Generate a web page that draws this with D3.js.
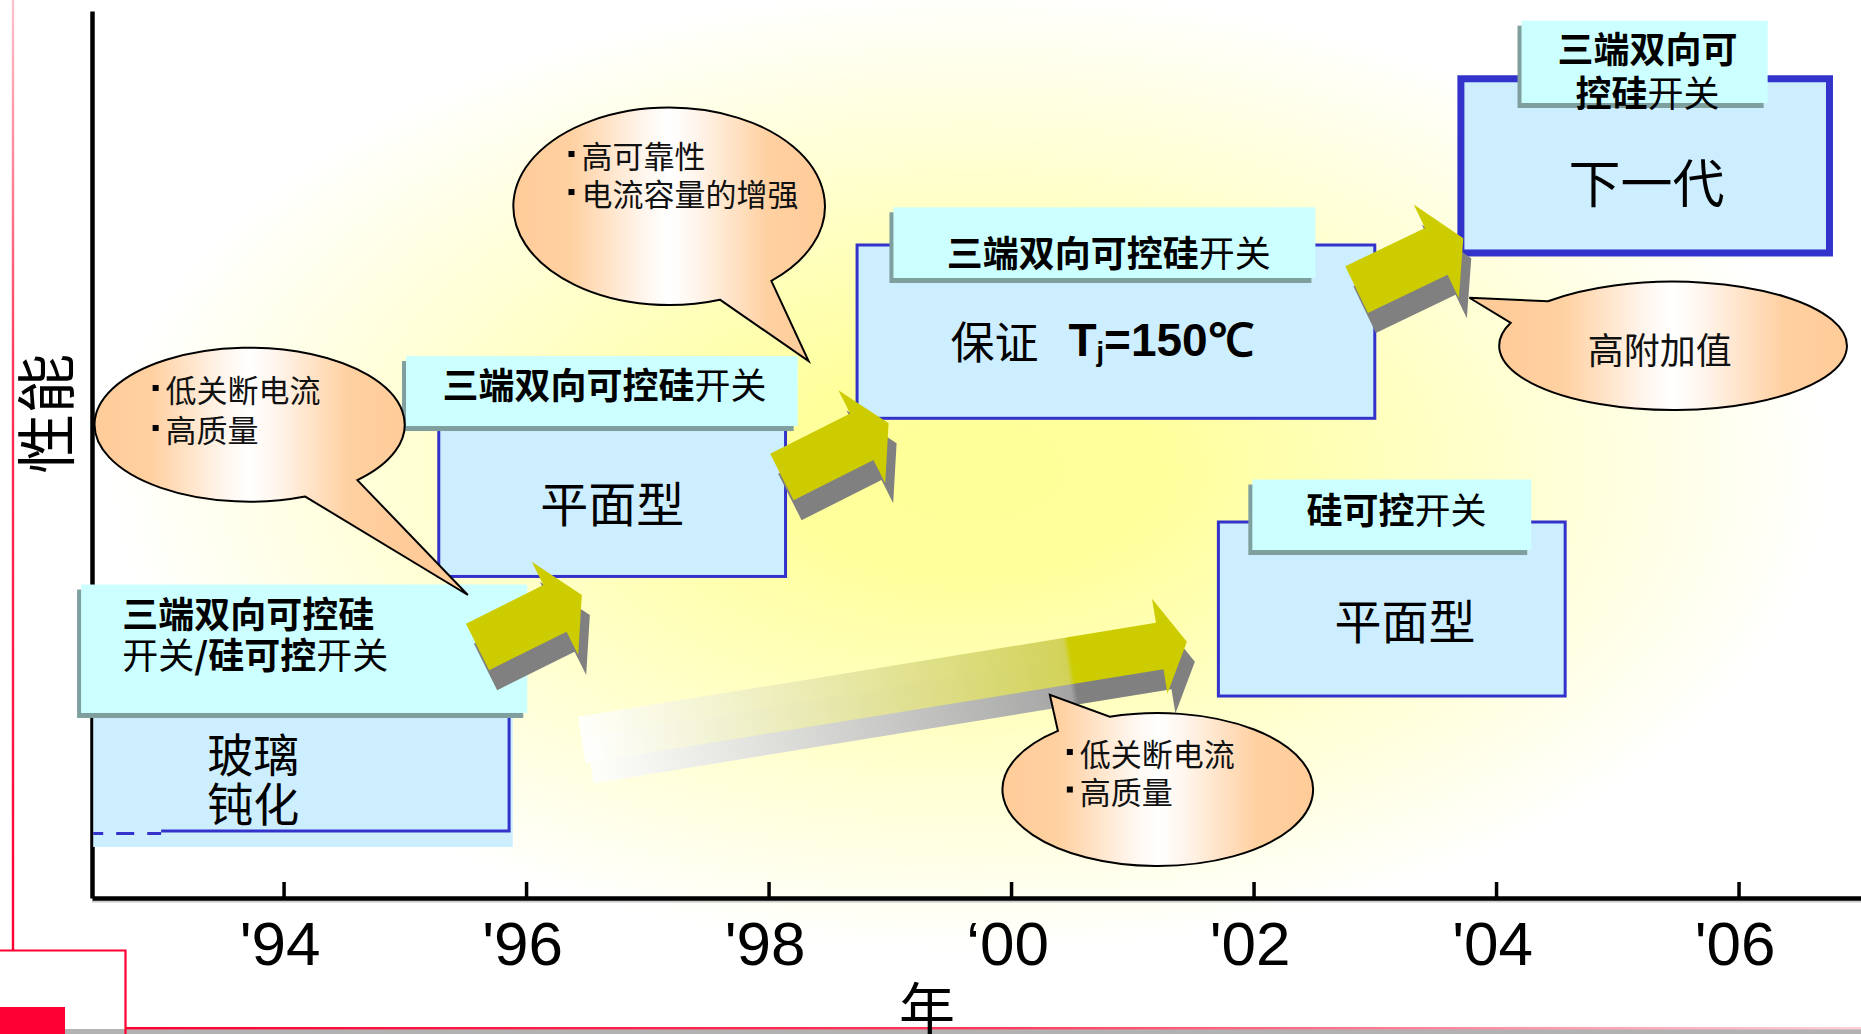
<!DOCTYPE html>
<html>
<head>
<meta charset="utf-8">
<script src="https://cdn.jsdelivr.net/npm/d3@7"></script>
<style>
  html, body { margin: 0; padding: 0; background: #fff; }
  svg { display: block; }
</style>
</head>
<body>
<div id="chart"></div>
<script>
// time axis
var years = [1994, 1996, 1998, 2000, 2002, 2004, 2006];
var yearLabels = ["'94", "'96", "'98", "‘00", "'02", "'04", "'06"];

// product generations: body box [from, to] in years, [top, bottom] in performance
var bodyX = [[1992.43, 1995.86], [1995.28, 1998.14], [1998.73, 2003.00], [2003.71, 2006.75], [2001.71, 2004.57]];
var bodyY = [[22.32, 7.55], [53.44, 36.25], [73.62, 54.08], [92.36, 72.72], [42.39, 22.77]];
var bodyText = [["玻璃", "钝化"], ["平面型"], ["保证"], ["下一代"], ["平面型"]];
var bodyTextX = [1993.75, 1996.71, 1999.50, 2005.24, 2003.25];
var bodyTextY = [[16.46, 10.94], [44.76], [62.91], [80.95], [31.62]];
var junctionLabel = ["T", "j", "=150℃"];

// glass passivation box: light fill runs a bit past its border, border is dashed near the axis
var glassFillTo = [1995.89, 5.75];
var glassDashTo = 1992.99;

// title tabs on the boxes ({} marks the thin glyphs)
var headX = [[1992.33, 1996.01], [1995.01, 1998.24], [1999.03, 2002.51], [2004.21, 2006.24], [2001.99, 2004.29]];
var headY = [[35.34, 20.86], [61.10, 53.21], [77.87, 69.90], [98.91, 89.63], [47.18, 39.23]];
var headText = [["三端双向可控硅", "{开关}/硅可控{开关}"], ["三端双向可控硅{开关}"], ["三端双向可控硅{开关}"], ["三端双向可", "控硅{开关}"], ["硅可控{开关}"]];
var headTextX = [1992.67, 1995.31, 1999.47, 2005.25, 2003.18];
var headTextY = [[32.20, 27.59], [58.06], [72.94], [95.97, 91.01], [43.97]];

// block arrows: tail centre -> tip, in (year, performance)
var arrowFrom = [[1995.60, 28.30], [1998.11, 47.46], [2002.85, 68.58], [1996.46, 17.81]];
var arrowTo = [[1996.46, 34.16], [1998.99, 53.52], [2003.73, 74.37], [2001.45, 28.90]];

// speech bubbles
var bubbleCenter = [[1993.72, 53.36], [1997.18, 77.98], [2001.21, 12.23], [2005.46, 62.25]];
var bubbleRadius = [[1.279, 8.68], [1.285, 11.13], [1.281, 8.62], [1.434, 7.24]];
var bubbleTip = [[1995.52, 34.16], [1998.33, 60.54], [2000.32, 22.91], [2003.78, 67.67]];
var bubbleTailAngles = [[46, 69], [49, 71], [-130, -108], [-159, -136]];
var bubbleText = [["低关断电流", "高质量"], ["高可靠性", "电流容量的增强"], ["低关断电流", "高质量"], ["高附加值"]];
var bubbleTextX = [1992.92, 1996.35, 2000.46, 2005.35];
var bubbleTextY = [[57.50, 52.99], [83.88, 79.59], [16.46, 12.23], [61.96]];

// styles
var cjk = "'Noto Sans CJK SC', 'Noto Sans CJK JP', sans-serif";
var latin = "'Liberation Sans', Arial, sans-serif";
var headAlign = ["start", "start", "start", "middle", "middle"];
var bodySize = [46, 48, 44, 52, 47];
var bodyStroke = [3, 3, 3, 7, 3];
var arrowShaft = [26, 26, 26, 23.5];
var arrowHead = [52, 52, 52, 48];
var arrowHeadLen = [30, 30, 30, 27.5];
var bubbleSize = [31, 31, 31, 36];
var bubbleBullet = [true, true, true, false];

var W = 1861, H = 1034;

var svg = d3.select("#chart").append("svg")
    .attr("width", W)
    .attr("height", H);
var defs = svg.append("defs");

var x = d3.scaleLinear().domain([1992.42, 2007.01]).range([92, 1861]);
var y = d3.scaleLinear().domain([0, 100]).range([898, 11]);

// soft yellow glow behind the plot
var bg = defs.append("radialGradient")
    .attr("id", "bg")
    .attr("gradientUnits", "userSpaceOnUse")
    .attr("cx", 970).attr("cy", 470).attr("r", 860)
    .attr("gradientTransform", "translate(970,470) scale(1,0.56) translate(-970,-470)");
bg.append("stop").attr("offset", 0).attr("stop-color", "#ffff99");
bg.append("stop").attr("offset", 0.22).attr("stop-color", "#ffff9c");
bg.append("stop").attr("offset", 1).attr("stop-color", "#ffffff");

svg.append("rect")
    .attr("width", W).attr("height", H)
    .attr("fill", "url(#bg)");

// red slide frame
var redV = defs.append("linearGradient").attr("id", "redV")
    .attr("x1", 0).attr("y1", 0).attr("x2", 0).attr("y2", 1);
redV.append("stop").attr("offset", 0).attr("stop-color", "#ffc4cf");
redV.append("stop").attr("offset", 0.4).attr("stop-color", "#ff3355");
redV.append("stop").attr("offset", 1).attr("stop-color", "#ff0033");
var redH = defs.append("linearGradient").attr("id", "redH");
redH.append("stop").attr("offset", 0).attr("stop-color", "#ff0033");
redH.append("stop").attr("offset", 0.5).attr("stop-color", "#ff3a5a");
redH.append("stop").attr("offset", 1).attr("stop-color", "#ffd0da");

var frame = svg.append("g");
frame.append("rect").attr("x", 11.8).attr("y", 0).attr("width", 2.4).attr("height", 950).attr("fill", "url(#redV)");
frame.append("rect").attr("x", 65).attr("y", 1029).attr("width", W - 65).attr("height", 5).attr("fill", "#b2b2b2");
frame.append("rect").attr("x", 125).attr("y", 1027).attr("width", W - 125).attr("height", 2.4).attr("fill", "url(#redH)");
frame.append("path")
    .attr("d", "M0,950.5H125.5V1034")
    .attr("fill", "none")
    .attr("stroke", "#ff0033")
    .attr("stroke-width", 2.2);
frame.append("rect").attr("x", 0).attr("y", 1007).attr("width", 65).attr("height", 27).attr("fill", "#ff0033");

// axes
var xAxis = d3.axisBottom(x)
    .tickValues(years)
    .tickFormat(function (d, i) { return yearLabels[i]; })
    .tickSize(-16)
    .tickSizeOuter(0)
    .tickPadding(23);

svg.append("line")
    .attr("x1", 92).attr("x2", W)
    .attr("y1", y(0) + 3.5).attr("y2", y(0) + 3.5)
    .attr("stroke", "#c8c8c8").attr("stroke-width", 2);

var gx = svg.append("g")
    .attr("class", "x-axis")
    .attr("transform", "translate(0," + y(0) + ")")
    .call(xAxis);
gx.select(".domain").attr("stroke", "#000").attr("stroke-width", 4.5);
gx.selectAll(".tick line").attr("stroke", "#000").attr("stroke-width", 3.5);
gx.selectAll(".tick text")
    .attr("font-family", latin)
    .attr("font-size", 62)
    .attr("fill", "#000")
    .attr("dx", -4);

var gy = svg.append("g")
    .attr("class", "y-axis")
    .attr("transform", "translate(" + x.range()[0] + ",0)")
    .call(d3.axisLeft(y).tickValues([]).tickSizeOuter(0));
gy.select(".domain").attr("stroke", "#000").attr("stroke-width", 4.5);

// multi-line label as one text element, one tspan per line
function addLines(g, lines, xPos, yList, attrs, fill) {
    var t = g.append("text")
        .attr("x", xPos)
        .attr("y", yList[0])
        .attr("dominant-baseline", "central")
        .attr("font-family", cjk)
        .attr("fill", "#000");
    Object.keys(attrs).forEach(function (k) { t.attr(k, attrs[k]); });
    lines.forEach(function (line, j) {
        var ln = t.append("tspan").attr("x", xPos).attr("y", yList[j]);
        fill(ln, line);
    });
    return t;
}

// boxes
var stages = bodyX.map(function (d, i) {
    return {
        i: i,
        x0: x(d[0]), x1: x(d[1]), y0: y(bodyY[i][0]), y1: y(bodyY[i][1]),
        hx0: x(headX[i][0]), hx1: x(headX[i][1]), hy0: y(headY[i][0]), hy1: y(headY[i][1])
    };
});

var stageG = svg.append("g").selectAll(".stage")
    .data(stages)
    .enter()
    .append("g")
    .attr("class", "stage");

stageG.each(function (d) {
    var g = d3.select(this);
    if (d.i === 0) {
        g.append("rect")
            .attr("x", d.x0).attr("y", d.y0)
            .attr("width", x(glassFillTo[0]) - d.x0)
            .attr("height", y(glassFillTo[1]) - d.y0)
            .attr("fill", "#cceeff");
        g.append("path")
            .attr("d", "M" + x(glassDashTo) + "," + d.y1 + "H" + d.x1 + "V" + d.y0)
            .attr("fill", "none").attr("stroke", "#3333cc").attr("stroke-width", 3);
        g.append("path")
            .attr("d", "M" + d.x0 + "," + (d.y1 + 2.5) + "H" + x(glassDashTo))
            .attr("fill", "none").attr("stroke", "#3333cc").attr("stroke-width", 3)
            .attr("stroke-dasharray", "18 13").attr("stroke-dashoffset", 8);
    } else {
        g.append("rect")
            .attr("x", d.x0).attr("y", d.y0)
            .attr("width", d.x1 - d.x0).attr("height", d.y1 - d.y0)
            .attr("fill", "#cceeff")
            .attr("stroke", "#3333cc")
            .attr("stroke-width", bodyStroke[d.i]);
    }

    // title tab with its shadow
    g.append("rect")
        .attr("x", d.hx0 - 4).attr("y", d.hy0 + 5)
        .attr("width", d.hx1 - d.hx0).attr("height", d.hy1 - d.hy0)
        .attr("fill", "#7f9f9f");
    g.append("rect")
        .attr("x", d.hx0).attr("y", d.hy0)
        .attr("width", d.hx1 - d.hx0).attr("height", d.hy1 - d.hy0)
        .attr("fill", "#ccffff");

    addLines(g, headText[d.i], x(headTextX[d.i]), headTextY[d.i].map(y),
        { "text-anchor": headAlign[d.i], "font-size": 36 },
        function (ln, line) {
            var re = /\{([^}]*)\}|([^{]+)/g, m;
            while ((m = re.exec(line))) {
                ln.append("tspan")
                    .attr("font-weight", m[1] !== undefined ? 400 : 700)
                    .text(m[1] !== undefined ? m[1] : m[2]);
            }
        });

    var t = addLines(g, bodyText[d.i], x(bodyTextX[d.i]), bodyTextY[d.i].map(y),
        { "text-anchor": d.i === 2 ? "start" : "middle", "font-size": bodySize[d.i] },
        function (ln, line) { ln.text(line); });
    if (d.i === 2) {
        t.append("tspan").attr("dx", 30).attr("font-family", latin).attr("font-weight", 700)
            .attr("font-size", 46).text(junctionLabel[0]);
        t.append("tspan").attr("dy", 12).attr("font-family", latin).attr("font-weight", 700)
            .attr("font-size", 27).text(junctionLabel[1]);
        t.append("tspan").attr("dy", -12).attr("font-family", latin).attr("font-weight", 700)
            .attr("font-size", 46).text(junctionLabel[2]);
    }
});

// block arrows with grey drop shadow
function arrowPoints(p0, p1, shaft, head, headLen) {
    var dx = p1[0] - p0[0], dy = p1[1] - p0[1], L = Math.hypot(dx, dy);
    var ux = dx / L, uy = dy / L, nx = -uy, ny = ux, b = L - headLen;
    function pt(a, s) { return [p0[0] + ux * a + nx * s, p0[1] + uy * a + ny * s]; }
    return [pt(0, -shaft), pt(b, -shaft), pt(b, -head), pt(L, 0), pt(b, head), pt(b, shaft), pt(0, shaft)];
}

var arrows = arrowFrom.map(function (d, i) {
    return { i: i, p0: [x(d[0]), y(d[1])], p1: [x(arrowTo[i][0]), y(arrowTo[i][1])] };
});

// the long arrow fades in from the left
var last = arrows[3];
[["fadeY", "#cccc00", "#d2d25a"], ["fadeG", "#808080", "#a4a4a4"]].forEach(function (c) {
    var gr = defs.append("linearGradient").attr("id", c[0])
        .attr("gradientUnits", "userSpaceOnUse")
        .attr("x1", last.p0[0]).attr("y1", last.p0[1])
        .attr("x2", last.p1[0]).attr("y2", last.p1[1]);
    gr.append("stop").attr("offset", 0).attr("stop-color", "#ffffff").attr("stop-opacity", 0.9);
    gr.append("stop").attr("offset", 0.8).attr("stop-color", c[2]);
    gr.append("stop").attr("offset", 0.81).attr("stop-color", c[1]);
    gr.append("stop").attr("offset", 1).attr("stop-color", c[1]);
});

var arrowG = svg.append("g").selectAll(".arrow")
    .data(arrows)
    .enter()
    .append("g")
    .attr("class", "arrow");

arrowG.append("polygon")
    .attr("points", function (d) {
        return arrowPoints(d.p0, d.p1, arrowShaft[d.i], arrowHead[d.i], arrowHeadLen[d.i])
            .map(function (p) { return [p[0] + 8, p[1] + 20]; }).join(" ");
    })
    .attr("fill", function (d) { return d.i === 3 ? "url(#fadeG)" : "#808080"; });

arrowG.append("polygon")
    .attr("points", function (d) {
        return arrowPoints(d.p0, d.p1, arrowShaft[d.i], arrowHead[d.i], arrowHeadLen[d.i]).join(" ");
    })
    .attr("fill", function (d) { return d.i === 3 ? "url(#fadeY)" : "#cccc00"; });

// speech bubbles
var bubbles = bubbleCenter.map(function (d, i) {
    var cx = x(d[0]), cy = y(d[1]);
    return {
        i: i, cx: cx, cy: cy,
        rx: x(d[0] + bubbleRadius[i][0]) - cx,
        ry: cy - y(d[1] + bubbleRadius[i][1]),
        tip: [x(bubbleTip[i][0]), y(bubbleTip[i][1])]
    };
});

bubbles.forEach(function (b) {
    var gr = defs.append("linearGradient").attr("id", "bub" + b.i)
        .attr("gradientUnits", "userSpaceOnUse")
        .attr("x1", b.cx - b.rx).attr("y1", b.cy)
        .attr("x2", b.cx + b.rx).attr("y2", b.cy);
    [[0, "#ffcc99"], [0.18, "#ffd0a0"], [0.42, "#fff6ee"], [0.5, "#ffffff"],
     [0.58, "#fff6ee"], [0.82, "#ffd0a0"], [1, "#ffcc99"]].forEach(function (s) {
        gr.append("stop").attr("offset", s[0]).attr("stop-color", s[1]);
    });
});

function bubblePath(b) {
    var a = bubbleTailAngles[b.i].slice().sort(function (p, q) { return p - q; })
        .map(function (v) { return v * Math.PI / 180; });
    var p1 = [b.cx + b.rx * Math.cos(a[0]), b.cy + b.ry * Math.sin(a[0])];
    var p2 = [b.cx + b.rx * Math.cos(a[1]), b.cy + b.ry * Math.sin(a[1])];
    return "M" + p1 + "L" + b.tip + "L" + p2 + "A" + b.rx + "," + b.ry + " 0 1 1 " + p1 + "Z";
}

var bubbleG = svg.append("g").selectAll(".bubble")
    .data(bubbles)
    .enter()
    .append("g")
    .attr("class", "bubble");

bubbleG.append("path")
    .attr("d", bubblePath)
    .attr("fill", function (d) { return "url(#bub" + d.i + ")"; })
    .attr("stroke", "#000")
    .attr("stroke-width", 2)
    .attr("stroke-linejoin", "miter");

bubbleG.each(function (d) {
    var g = d3.select(this);
    var tx = x(bubbleTextX[d.i]), ty = bubbleTextY[d.i].map(y);
    if (bubbleBullet[d.i]) {
        ty.forEach(function (v) {
            g.append("rect")
                .attr("x", tx).attr("y", v - 3)
                .attr("width", 6).attr("height", 6)
                .attr("fill", "#000");
        });
    }
    addLines(g, bubbleText[d.i], bubbleBullet[d.i] ? tx + 13 : tx, ty,
        { "text-anchor": bubbleBullet[d.i] ? "start" : "middle", "font-size": bubbleSize[d.i] },
        function (ln, line) { ln.attr("fill", "#111").text(line); });
});

// axis titles
svg.append("text")
    .attr("transform", "translate(42," + y(54.6) + ") rotate(-90)")
    .attr("text-anchor", "middle")
    .attr("dominant-baseline", "central")
    .attr("font-family", cjk)
    .attr("font-size", 60)
    .attr("fill", "#000")
    .text("性能");

svg.append("text")
    .attr("x", 927)
    .attr("y", 1004)
    .attr("text-anchor", "middle")
    .attr("dominant-baseline", "central")
    .attr("font-family", cjk)
    .attr("font-size", 56)
    .attr("fill", "#000")
    .text("年");
</script>
</body>
</html>
